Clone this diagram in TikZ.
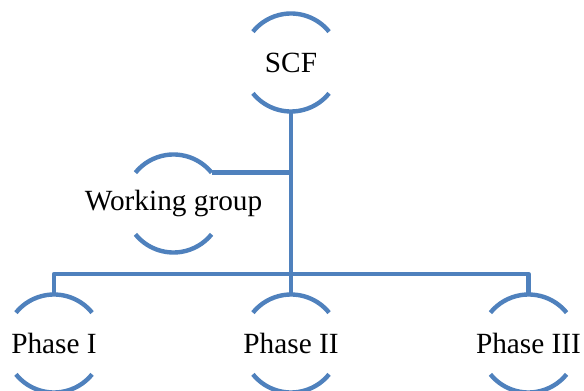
\documentclass[tikz,border=0pt]{standalone}
\usepackage{fontspec}
\setmainfont{Liberation Serif}
\definecolor{smartblue}{RGB}{79,129,189}
\begin{document}
\begin{tikzpicture}[x=1pt,y=1pt,
  unit/.style={circle, inner sep=0pt, outer sep=0pt, minimum size=98pt,
    font=\fontsize{29.3}{34}\selectfont, text=black},
  linkline/.style={draw=smartblue, line width=4.4pt, line join=round},
  arcline/.style={draw=smartblue, line width=4.4pt}]
\fill[white] (0,0) rectangle (584,391);
\useasboundingbox (0,0) rectangle (584,391);
\node[unit] (scf) at (291,328.5) {\makebox[0pt]{SCF}};
\node[unit] (wg) at (173.5,187.5) {\makebox[0pt]{Working group}};
\node[unit] (p1) at (54,47.5) {\makebox[0pt]{Phase I}};
\node[unit] (p2) at (291,47.5) {\makebox[0pt]{Phase II}};
\node[unit] (p3) at (528.5,47.5) {\makebox[0pt]{Phase III}};
\coordinate (bus) at (291,117);
\foreach \n in {scf,wg,p1,p2,p3}{
  \draw[arcline] (\n.39) arc[start angle=39, end angle=141, radius=49pt];
  \draw[arcline] (\n.-141) arc[start angle=-141, end angle=-39, radius=49pt];
}
\draw[linkline] (scf.south) -- (p2.north);
\draw[linkline] (wg.39) -- (wg.39 -| scf.south);
\draw[linkline] (p1.north) -- (p1.north |- bus) -- (p3.north |- bus) -- (p3.north);
\end{tikzpicture}
\end{document}
